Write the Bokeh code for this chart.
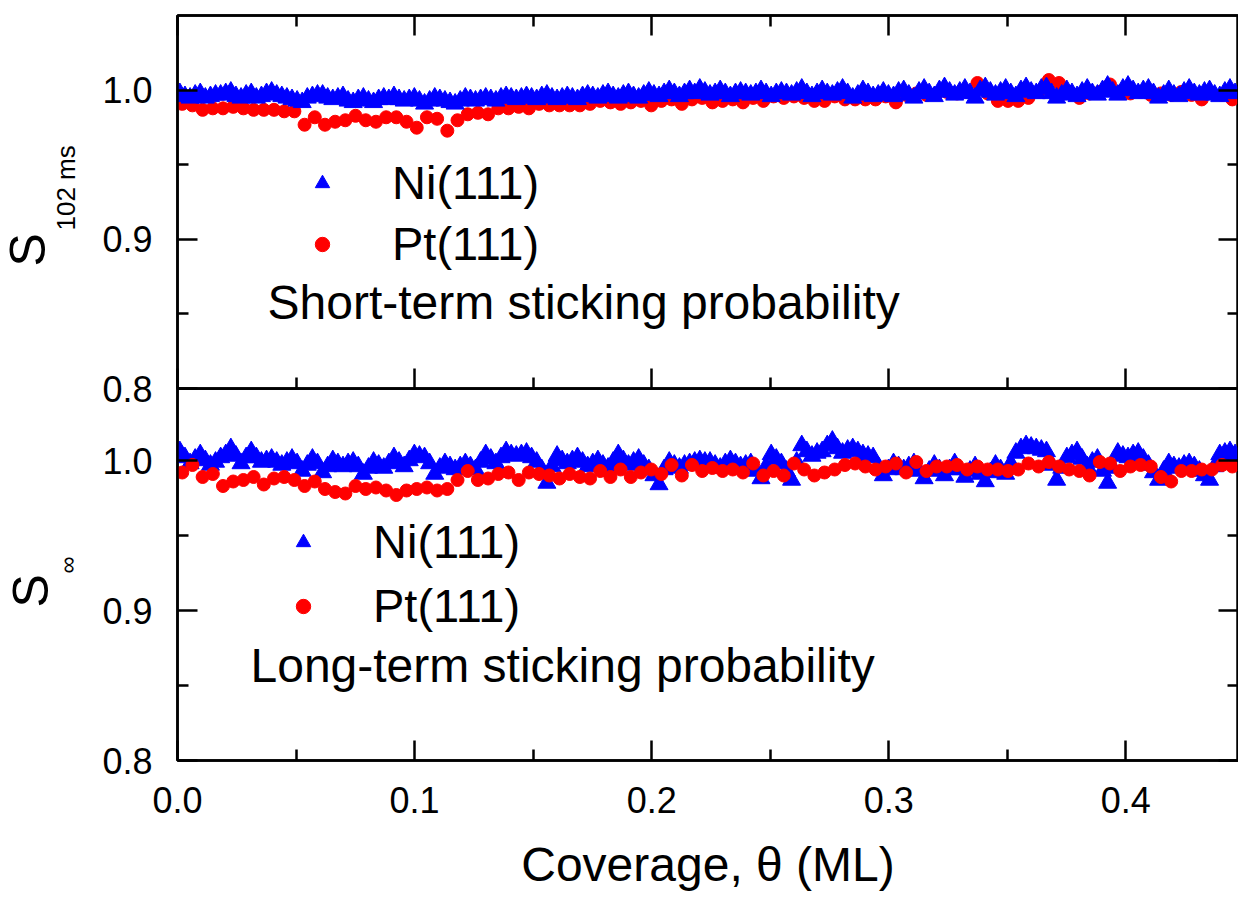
from bokeh.plotting import figure
from bokeh.models import (Range1d, LinearAxis, FixedTicker, NumeralTickFormatter,
                          CustomJSTickFormatter, Label, Legend, LegendItem, Title)
from bokeh.layouts import column
from bokeh.embed import file_html
from bokeh.resources import INLINE

FONT = "Liberation Sans"

# ---------------- data ----------------
coverage_pt = [round(0.002 + 0.0043 * i, 4) for i in range(104)]
coverage_ni = [round(0.001 + 0.00215 * j, 5) for j in range(208)]

top_ni = [0.998, 0.996, 0.995, 0.997, 0.998, 0.995, 0.996, 0.997, 0.997, 0.998,
          0.999, 0.996, 0.995, 0.997, 0.998, 0.995, 0.996, 0.998, 0.999, 0.997,
          0.996, 0.995, 0.994, 0.993, 0.992, 0.995, 0.996, 0.997, 0.997, 0.995,
          0.994, 0.995, 0.996, 0.993, 0.992, 0.994, 0.995, 0.993, 0.992, 0.994,
          0.995, 0.994, 0.996, 0.994, 0.993, 0.994, 0.995, 0.993, 0.991, 0.993,
          0.995, 0.994, 0.993, 0.992, 0.991, 0.993, 0.995, 0.994, 0.993, 0.994,
          0.995, 0.994, 0.993, 0.995, 0.996, 0.995, 0.994, 0.995, 0.996, 0.995,
          0.994, 0.996, 0.997, 0.995, 0.994, 0.995, 0.996, 0.995, 0.994, 0.996,
          0.997, 0.996, 0.995, 0.997, 0.998, 0.996, 0.995, 0.997, 0.998, 0.996,
          0.995, 0.997, 0.999, 0.997, 0.996, 0.998, 1.000, 0.998, 0.996, 0.998,
          1.000, 0.998, 1.001, 0.999, 0.997, 0.998, 1.000, 0.998, 0.996, 0.998,
          0.999, 0.998, 0.997, 0.998, 1.000, 0.998, 0.996, 0.998, 0.999, 0.998,
          0.997, 0.999, 1.001, 0.998, 0.996, 0.998, 1.000, 0.998, 0.997, 0.999,
          1.001, 0.998, 0.995, 0.997, 1.000, 0.998, 0.996, 0.997, 0.999, 0.997,
          0.996, 0.999, 1.000, 0.997, 0.995, 0.999, 1.001, 0.998, 0.996, 1.000,
          1.002, 0.999, 0.997, 0.999, 1.001, 0.998, 0.995, 1.000, 1.002, 0.999,
          0.997, 0.999, 1.001, 0.998, 0.996, 1.000, 1.002, 0.999, 0.998, 1.001,
          1.002, 0.998, 0.995, 0.997, 1.000, 0.998, 0.996, 0.999, 1.001, 0.998,
          0.997, 1.000, 1.003, 0.999, 0.997, 1.001, 1.003, 1.000, 0.998, 1.000,
          1.001, 0.998, 0.995, 0.997, 1.000, 0.997, 0.996, 0.999, 1.001, 0.998,
          0.997, 0.999, 1.000, 0.997, 0.996, 0.999, 1.001, 0.998]

top_pt = [0.991, 0.990, 0.987, 0.988, 0.988, 0.989, 0.988, 0.987, 0.987, 0.987,
          0.986, 0.986, 0.977, 0.982, 0.977, 0.979, 0.980, 0.983, 0.980, 0.979,
          0.982, 0.982, 0.979, 0.975, 0.982, 0.981, 0.973, 0.980, 0.984, 0.985,
          0.984, 0.988, 0.988, 0.989, 0.988, 0.991, 0.990, 0.990, 0.990, 0.990,
          0.991, 0.993, 0.992, 0.991, 0.992, 0.993, 0.990, 0.993, 0.994, 0.991,
          0.994, 0.995, 0.992, 0.993, 0.994, 0.992, 0.995, 0.993, 0.996, 0.995,
          0.996, 0.995, 0.993, 0.993, 0.996, 0.994, 0.994, 0.994, 0.994, 0.996,
          0.992, 0.997, 0.998, 0.997, 0.998, 0.999, 0.998, 0.999, 1.005, 0.998,
          0.993, 0.993, 0.993, 0.995, 0.999, 1.007, 1.005, 0.999, 0.995, 0.998,
          0.999, 1.004, 0.999, 0.998, 0.999, 0.997, 0.998, 0.997, 0.999, 0.997,
          0.994, 0.998, 0.997, 0.994]

bot_ni = [1.006, 1.002, 0.998, 1.001, 1.004, 1.000, 0.997, 0.999, 1.002, 1.004,
          1.008, 1.003, 0.998, 1.002, 1.006, 1.002, 0.999, 1.000, 1.001, 0.999,
          0.997, 0.999, 1.001, 0.998, 0.993, 0.997, 1.001, 0.998, 0.992, 0.996,
          1.000, 0.998, 0.996, 0.998, 0.999, 0.996, 0.991, 0.995, 0.999, 0.997,
          0.995, 0.998, 1.002, 0.999, 0.996, 1.000, 1.004, 1.003, 1.002, 0.998,
          0.991, 0.995, 0.998, 0.996, 0.994, 0.996, 0.998, 0.996, 0.994, 0.999,
          1.004, 1.001, 0.998, 1.002, 1.006, 1.004, 1.003, 1.004, 1.005, 1.002,
          0.999, 0.994, 0.985, 0.996, 1.003, 1.000, 0.998, 1.000, 1.002, 0.999,
          0.996, 0.998, 1.000, 0.997, 0.995, 0.999, 1.004, 1.000, 0.997, 0.999,
          1.001, 0.997, 0.994, 0.990, 0.984, 0.994, 0.999, 0.997, 0.995, 0.997,
          0.998, 0.999, 1.000, 0.999, 0.999, 0.997, 0.995, 0.998, 1.000, 0.998,
          0.996, 0.997, 0.998, 0.993, 0.988, 0.996, 1.004, 1.001, 0.998, 0.993,
          0.987, 0.999, 1.010, 1.006, 1.003, 1.005, 1.006, 1.010, 1.013, 1.008,
          1.005, 1.007, 1.008, 1.006, 1.004, 1.003, 1.002, 0.996, 0.990, 0.994,
          0.998, 0.996, 0.994, 0.996, 0.998, 0.993, 0.988, 0.993, 0.997, 0.994,
          0.990, 0.994, 0.998, 0.994, 0.989, 0.993, 0.996, 0.991, 0.986, 0.992,
          0.997, 0.994, 0.991, 0.998, 1.005, 1.008, 1.010, 1.009, 1.008, 1.007,
          1.006, 0.997, 0.987, 0.995, 1.002, 1.004, 1.006, 1.001, 0.996, 0.999,
          1.001, 0.993, 0.985, 0.995, 1.005, 1.003, 1.002, 1.004, 1.005, 1.001,
          0.997, 0.992, 0.987, 0.993, 0.998, 0.996, 0.995, 0.997, 0.998, 0.996,
          0.993, 0.990, 0.987, 0.996, 1.004, 1.005, 1.006, 1.004]

bot_pt = [0.992, 0.997, 0.989, 0.991, 0.983, 0.986, 0.987, 0.989, 0.984, 0.988,
          0.989, 0.987, 0.983, 0.986, 0.981, 0.979, 0.978, 0.983, 0.981, 0.982,
          0.980, 0.977, 0.980, 0.981, 0.982, 0.980, 0.981, 0.987, 0.993, 0.987,
          0.988, 0.991, 0.992, 0.987, 0.992, 0.991, 0.990, 0.988, 0.991, 0.989,
          0.988, 0.993, 0.989, 0.994, 0.989, 0.992, 0.994, 0.991, 0.997, 0.990,
          0.997, 0.993, 0.995, 0.993, 0.994, 0.992, 0.998, 0.990, 0.993, 0.990,
          0.998, 0.994, 0.990, 0.992, 0.994, 0.997, 0.998, 0.996, 0.994, 0.996,
          0.998, 0.992, 0.999, 0.993, 0.996, 0.996, 0.997, 0.994, 0.996, 0.994,
          0.994, 0.993, 0.994, 0.998, 0.996, 0.999, 0.996, 0.994, 0.993, 0.990,
          0.999, 0.998, 0.993, 0.996, 0.997, 0.996, 0.989, 0.986, 0.993, 0.993,
          0.994, 0.994, 0.997, 0.996]

series_labels = ["Ni(111)", "Pt(111)"]
X_TICKS = [0.0, 0.1, 0.2, 0.3, 0.4]
X_MINOR = [0.05, 0.15, 0.25, 0.35, 0.45]
Y_TICKS = [0.8, 0.9, 1.0]
Y_MINOR = [0.85, 0.95]

XEND = 0.4475
LW = 2.5
TRI = 18
DOT = 13


def style_axis(ax, show_labels):
    ax.axis_line_width = LW
    ax.axis_line_color = "black"
    ax.major_tick_line_width = LW
    ax.minor_tick_line_width = LW
    ax.major_tick_line_color = "black"
    ax.minor_tick_line_color = "black"
    ax.major_tick_in = 20
    ax.major_tick_out = 0
    ax.minor_tick_in = 11
    ax.minor_tick_out = 0
    ax.major_label_text_font = FONT
    ax.major_label_text_color = "black"
    if show_labels:
        ax.major_label_text_font_size = "36px"
        ax.formatter = NumeralTickFormatter(format="0.0")
    else:
        ax.major_label_text_font_size = "1px"
        ax.major_label_standoff = 0
        ax.formatter = CustomJSTickFormatter(code="return ''")


def xaxis(show):
    a = LinearAxis(ticker=FixedTicker(ticks=X_TICKS, minor_ticks=X_MINOR))
    style_axis(a, show)
    return a


def yaxis(show):
    a = LinearAxis(ticker=FixedTicker(ticks=Y_TICKS, minor_ticks=Y_MINOR))
    style_axis(a, show)
    return a


def side_title(text, size, offset, standoff):
    return Title(text=text, align="left", offset=offset, standoff=standoff,
                 text_font=FONT, text_font_size=size, text_font_style="normal",
                 text_color="black")


def base_fig(height, ystart, yend, top, bottom):
    p = figure(width=1238, height=height, x_range=Range1d(0, XEND),
               y_range=Range1d(ystart, yend), output_backend="svg",
               toolbar_location=None, x_axis_location=None, y_axis_location=None,
               min_border_left=177, min_border_right=0,
               min_border_top=top, min_border_bottom=bottom)
    p.xgrid.grid_line_color = None
    p.ygrid.grid_line_color = None
    p.outline_line_color = "black"
    p.outline_line_width = LW
    return p


def legend(r_ni, r_pt, loc, spacing):
    return Legend(items=[LegendItem(label=series_labels[0], renderers=[r_ni]),
                         LegendItem(label=series_labels[1], renderers=[r_pt])],
                  location=loc, glyph_width=40, glyph_height=36, label_height=36,
                  label_standoff=50, spacing=spacing, padding=0, margin=0,
                  border_line_alpha=0, background_fill_alpha=0,
                  label_text_font=FONT, label_text_font_size="47px",
                  label_text_color="black")


# ---------------- top panel ----------------
p1 = base_fig(408, 0.8, 1.0503, 15, 20)
ly = yaxis(True)
ly.major_label_standoff = 25
p1.add_layout(ly, "left")
p1.add_layout(side_title("102 ms", "26px", 158, 37), "left")
p1.add_layout(side_title("S", "50px", 122, -50), "left")
p1.add_layout(xaxis(False), "below")
p1.add_layout(xaxis(False), "above")
p1.add_layout(yaxis(False), "right")

r_pt1 = p1.scatter(coverage_pt, top_pt, marker="circle", size=DOT, color="red")
r_ni1 = p1.scatter(coverage_ni, top_ni, marker="triangle", size=TRI, color="blue")
p1.add_layout(legend(r_ni1, r_pt1, (125, 117), 6))

p1.add_layout(Label(x=90, y=86, x_units="screen", y_units="screen",
                    text="Short-term sticking probability", text_font=FONT,
                    text_font_size="48px", text_baseline="alphabetic",
                    text_color="black"))

# ---------------- bottom panel ----------------
p2 = base_fig(517, 0.8, 1.048, 0, 145)
p2.border_fill_color = None
p2.background_fill_color = None
p2.styles = {"margin-top": "-20px"}
ly2 = yaxis(True)
ly2.major_label_standoff = 25
p2.add_layout(ly2, "left")
p2.add_layout(side_title("\u221e", "24px", 187, 37), "left")
p2.add_layout(side_title("S", "50px", 153, -50), "left")
bx = xaxis(True)
bx.major_label_standoff = 26
bx.axis_label = "Coverage, \u03b8 (ML)"
bx.axis_label_text_font = FONT
bx.axis_label_text_font_size = "48px"
bx.axis_label_text_font_style = "normal"
bx.axis_label_text_color = "black"
bx.axis_label_standoff = 22
p2.add_layout(bx, "below")
p2.add_layout(yaxis(False), "right")

r_ni2 = p2.scatter(coverage_ni, bot_ni, marker="triangle", size=TRI, color="blue")
r_pt2 = p2.scatter(coverage_pt, bot_pt, marker="circle", size=DOT, color="red")
p2.add_layout(legend(r_ni2, r_pt2, (106, 127), 9))

p2.add_layout(Label(x=73, y=95, x_units="screen", y_units="screen",
                    text="Long-term sticking probability", text_font=FONT,
                    text_font_size="48px", text_baseline="alphabetic",
                    text_color="black"))

layout = column(p1, p2, spacing=0)

with open("out.html", "w") as f:
    f.write(file_html(layout, INLINE))
